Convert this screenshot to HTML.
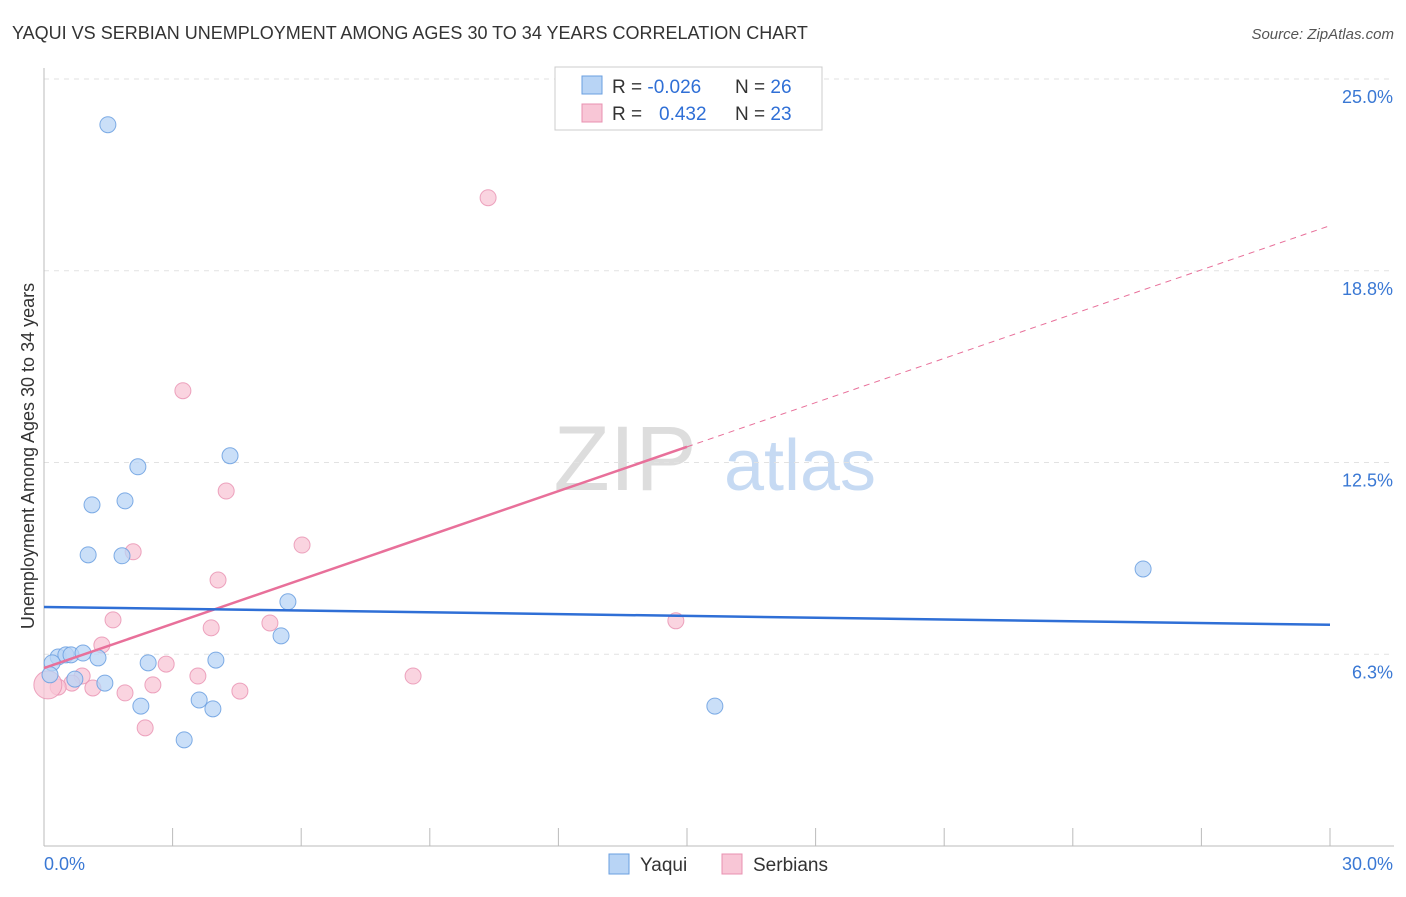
<!DOCTYPE html>
<html><head><meta charset="utf-8"><style>
body{margin:0;background:#fff;font-family:"Liberation Sans",sans-serif;}
svg text{font-family:"Liberation Sans",sans-serif;}
</style></head><body>
<svg width="1406" height="892" viewBox="0 0 1406 892" xmlns="http://www.w3.org/2000/svg">
<text x="12" y="39" font-size="18" fill="#333">YAQUI VS SERBIAN UNEMPLOYMENT AMONG AGES 30 TO 34 YEARS CORRELATION CHART</text>
<text x="1394" y="39" font-size="15" fill="#555" font-style="italic" text-anchor="end">Source: ZipAtlas.com</text>
<g>
<text x="625" y="490" font-size="92" fill="#ddd" font-family="Liberation Serif,serif" text-anchor="middle">ZIP</text>
<text x="800" y="490" font-size="72" fill="#c6daf3" text-anchor="middle">atlas</text>
</g>
<g id="grid"></g>
<g id="axes"></g>
<g id="marks"></g>
<text x="0" y="0" transform="translate(34,456) rotate(-90)" font-size="18" fill="#333" text-anchor="middle">Unemployment Among Ages 30 to 34 years</text>
<g>
<rect x="555" y="67" width="267" height="63" fill="#fff" stroke="#ccc"/>
<rect x="582" y="76" width="20" height="18" fill="#b8d4f5" stroke="#6a9fe0"/>
<rect x="582" y="104" width="20" height="18" fill="#f8c6d6" stroke="#e890b0"/>
<text x="612" y="93" font-size="19" fill="#333">R = <tspan fill="#2f6fd6">-0.026</tspan><tspan x="735">N = </tspan><tspan fill="#2f6fd6">26</tspan></text>
<text x="612" y="120" font-size="19" fill="#333">R = <tspan x="659" fill="#2f6fd6">0.432</tspan><tspan x="735">N = </tspan><tspan fill="#2f6fd6">23</tspan></text>
</g>
<g>
<rect x="609" y="854" width="20" height="20" fill="#b8d4f5" stroke="#6a9fe0"/>
<text x="640" y="871" font-size="19" fill="#333">Yaqui</text>
<rect x="722" y="854" width="20" height="20" fill="#f8c6d6" stroke="#e890b0"/>
<text x="753" y="871" font-size="19" fill="#333">Serbians</text>
</g>
</svg>
<script>
const yTicks=[6.25,12.5,18.75,25];
const yTickLabels=["6.3%","12.5%","18.8%","25.0%"];
const xTickCount=10;
const yaquiX=[1.49,2.19,4.34,1.12,1.89,1.03,1.82,5.69,5.53,25.64,0.33,0.51,0.63,0.91,1.26,2.43,4.01,0.19,1.42,0.72,2.26,3.62,3.94,3.27,15.65,0.14];
const yaquiY=[23.51,12.36,12.72,11.12,11.25,9.49,9.46,7.96,6.85,9.03,6.16,6.23,6.23,6.29,6.13,5.97,6.06,5.97,5.31,5.44,4.56,4.76,4.47,3.46,4.56,5.58];
const serbX=[10.36,3.24,4.25,6.02,2.08,4.06,1.61,5.27,3.90,14.74,1.35,2.85,3.59,0.89,8.61,0.65,0.33,1.14,2.54,1.89,4.57,2.36,0.09];
const serbY=[21.13,14.84,11.57,9.81,9.59,8.67,7.37,7.27,7.11,7.34,6.55,5.93,5.54,5.54,5.54,5.31,5.18,5.15,5.25,4.99,5.05,3.85,5.25];
const yaquiTrend=[7.79,7.21];
const serbTrend=[5.80,20.22];
const serbSolidEnd=15;
const NS="http://www.w3.org/2000/svg";
const sx=v=>44+v*(1330-44)/30;
const sy=v=>846-v*(846-79)/25;
function mk(parent,tag,attrs){const e=document.createElementNS(NS,tag);for(const k in attrs)e.setAttribute(k,attrs[k]);document.getElementById(parent).appendChild(e);return e;}
yTicks.forEach((t,i)=>{
 const l=mk('grid','line',{x1:44,x2:1394,y1:sy(t),y2:sy(t),stroke:'#e2e2e2','stroke-dasharray':'5,5'});
 
 
 const tx=mk('axes','text',{x:1393,y:sy(t)+24,'font-size':18,fill:'#3a78d4','text-anchor':'end'});
 tx.textContent=yTickLabels[i];
 
 
});
let a=mk('axes','line',{x1:44,x2:44,y1:68,y2:846,stroke:'#bbb'});


a=mk('axes','line',{x1:44,x2:1394,y1:846,y2:846,stroke:'#bbb'});


for(let i=0;i<=xTickCount;i++){const v=i*30/xTickCount;const t=mk('axes','line',{x1:sx(v),x2:sx(v),y1:828,y2:846,stroke:'#bbb'});
 
 }
let xl=mk('axes','text',{x:44,y:870,'font-size':18,fill:'#3a78d4'});xl.textContent='0.0%';


xl=mk('axes','text',{x:1393,y:870,'font-size':18,fill:'#3a78d4','text-anchor':'end'});xl.textContent='30.0%';


serbX.forEach((x,i)=>{const c=mk('marks','circle',{cx:sx(x),cy:sy(serbY[i]),r:i===serbX.length-1?14:8,fill:'#f8c6d6','fill-opacity':0.75,stroke:'#e890b0','stroke-opacity':0.8});
 
 });
yaquiX.forEach((x,i)=>{const c=mk('marks','circle',{cx:sx(x),cy:sy(yaquiY[i]),r:8,fill:'#b8d4f5','fill-opacity':0.75,stroke:'#6a9fe0','stroke-opacity':0.85});
 
 });
const py=x=>serbTrend[0]+(serbTrend[1]-serbTrend[0])*x/30;
let ln=mk('marks','line',{x1:sx(serbSolidEnd),y1:sy(py(serbSolidEnd)),x2:sx(30),y2:sy(serbTrend[1]),stroke:'#e8709a','stroke-width':1,'stroke-dasharray':'6,5'});


ln=mk('marks','line',{x1:sx(0),y1:sy(serbTrend[0]),x2:sx(serbSolidEnd),y2:sy(py(serbSolidEnd)),stroke:'#e8709a','stroke-width':2.5});


ln=mk('marks','line',{x1:sx(0),y1:sy(yaquiTrend[0]),x2:sx(30),y2:sy(yaquiTrend[1]),stroke:'#2f6fd6','stroke-width':2.5});


</script>
</body></html>
